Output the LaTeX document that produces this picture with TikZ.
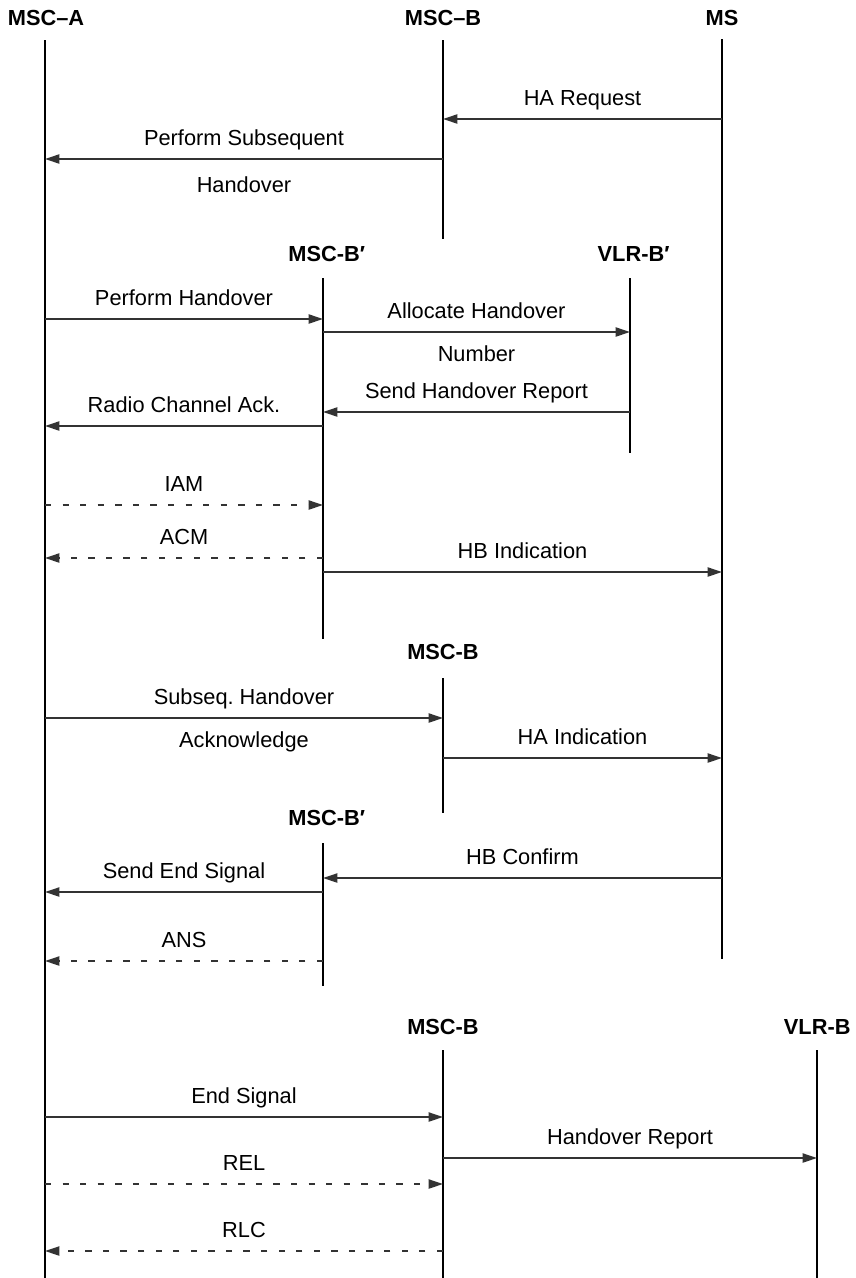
\documentclass[tikz,border=0pt]{standalone}
\usepackage{fontspec}
\setmainfont{Liberation Sans}
\usetikzlibrary{arrows.meta}

\begin{document}
\begin{tikzpicture}[
  x=1cm, y=1cm,
  >={Triangle[length=3.6mm, width=2.3mm]},
  every node/.style={inner sep=0pt, font=\fontsize{15.5}{18}\selectfont},
  head/.style={font=\fontsize{15.5}{18}\selectfont\bfseries},
  lbl/.style={text height=0.4cm, text depth=0.1cm},
  life/.style={draw, line width=1.8pt},
  % the two message kinds: solid for a signal, dashed for the ISUP ones
  msg/.style={draw=black!80, line width=1.1pt, ->},
  dmsg/.style={draw=black!80, line width=1.1pt, ->, dash pattern=on 4.5pt off 8pt}]

  \useasboundingbox (0,0) rectangle (21.375,-31.95);

  % entity names
  \node[head] (hA)   at ( 1.15, -0.45)  {MSC--A};
  \node[head] (hB)   at (11.075,-0.45)  {MSC--B};
  \node[head] (hMS)  at (18.05, -0.45)  {MS};
  \node[head] (hBp)  at ( 8.17, -6.35)  {MSC-B′};
  \node[head] (hVp)  at (15.84, -6.35)  {VLR-B′};
  \node[head] (hB2)  at (11.075,-16.3)  {MSC-B};
  \node[head] (hBp2) at ( 8.17, -20.45) {MSC-B′};
  \node[head] (hB3)  at (11.075,-25.675){MSC-B};
  \node[head] (hV)   at (20.43, -25.675){VLR-B};

  % lifeline ends
  \coordinate (aTop)   at ( 1.125, -1.00);  \coordinate (aBot)   at ( 1.125,-31.95);
  \coordinate (bTop)   at (11.075, -1.00);  \coordinate (bBot)   at (11.075, -5.975);
  \coordinate (msTop)  at (18.05,  -0.975); \coordinate (msBot)  at (18.05, -23.975);
  \coordinate (bpTop)  at ( 8.075, -6.95);  \coordinate (bpBot)  at ( 8.075,-15.975);
  \coordinate (vpTop)  at (15.75,  -6.95);  \coordinate (vpBot)  at (15.75, -11.325);
  \coordinate (b2Top)  at (11.075,-16.95);  \coordinate (b2Bot)  at (11.075,-20.325);
  \coordinate (bp2Top) at ( 8.075,-21.075); \coordinate (bp2Bot) at ( 8.075,-24.65);
  \coordinate (b3Top)  at (11.075,-26.25);  \coordinate (b3Bot)  at (11.075,-31.95);
  \coordinate (vTop)   at (20.425,-26.25);  \coordinate (vBot)   at (20.425,-31.95);

  % lifelines
  \draw[life] (aTop)   -- (aBot);
  \draw[life] (bTop)   -- (bBot);
  \draw[life] (msTop)  -- (msBot);
  \draw[life] (bpTop)  -- (bpBot);
  \draw[life] (vpTop)  -- (vpBot);
  \draw[life] (b2Top)  -- (b2Bot);
  \draw[life] (bp2Top) -- (bp2Bot);
  \draw[life] (b3Top)  -- (b3Bot);
  \draw[life] (vTop)   -- (vBot);

  % message rows
  \coordinate (m1)  at (0, -2.975);
  \coordinate (m2)  at (0, -3.975);
  \coordinate (m3)  at (0, -7.975);
  \coordinate (m4)  at (0, -8.3);
  \coordinate (m5)  at (0,-10.3);
  \coordinate (m6)  at (0,-10.65);
  \coordinate (m7)  at (0,-12.625);
  \coordinate (m8)  at (0,-13.95);
  \coordinate (m9)  at (0,-14.3);
  \coordinate (m10) at (0,-17.95);
  \coordinate (m11) at (0,-18.95);
  \coordinate (m12) at (0,-21.95);
  \coordinate (m13) at (0,-22.3);
  \coordinate (m14) at (0,-24.025);
  \coordinate (m15) at (0,-27.925);
  \coordinate (m16) at (0,-28.95);
  \coordinate (m17) at (0,-29.6);
  \coordinate (m18) at (0,-31.275);

  % messages
  \draw[msg] (msTop |- m1) -- node[lbl, above=0.21cm] (tHAreq) {HA Request} (bTop |- m1);
  \draw[msg] (bTop |- m2) -- node[lbl, above=0.21cm] (tPSH) {Perform Subsequent}
                             node[lbl, below=0.42cm] (tPSH2) {Handover} (aTop |- m2);
  \draw[msg] (aTop |- m3) -- node[lbl, above=0.21cm] (tPH) {Perform Handover} (bpTop |- m3);
  \draw[msg] (bpTop |- m4) -- node[lbl, above=0.21cm] (tAHN) {Allocate Handover}
                              node[lbl, below=0.31cm] (tAHN2) {Number} (vpTop |- m4);
  \draw[msg] (vpTop |- m5) -- node[lbl, above=0.21cm] (tSHR) {Send Handover Report} (bpTop |- m5);
  \draw[msg] (bpTop |- m6) -- node[lbl, above=0.21cm] (tRCA) {Radio Channel Ack.} (aTop |- m6);
  \draw[dmsg] (aTop |- m7) -- node[lbl, above=0.21cm] (tIAM) {IAM} (bpTop |- m7);
  \draw[dmsg] (bpTop |- m8) -- node[lbl, above=0.21cm] (tACM) {ACM} (aTop |- m8);
  \draw[msg] (bpTop |- m9) -- node[lbl, above=0.21cm] (tHBI) {HB Indication} (msTop |- m9);
  \draw[msg] (aTop |- m10) -- node[lbl, above=0.21cm] (tSHA) {Subseq.\ Handover}
                              node[lbl, below=0.31cm] (tSHA2) {Acknowledge} (b2Top |- m10);
  \draw[msg] (b2Top |- m11) -- node[lbl, above=0.21cm] (tHAI) {HA Indication} (msTop |- m11);
  \draw[msg] (msTop |- m12) -- node[lbl, above=0.21cm] (tHBC) {HB Confirm} (bp2Top |- m12);
  \draw[msg] (bp2Top |- m13) -- node[lbl, above=0.21cm] (tSES) {Send End Signal} (aTop |- m13);
  \draw[dmsg] (bp2Top |- m14) -- node[lbl, above=0.21cm] (tANS) {ANS} (aTop |- m14);
  \draw[msg] (aTop |- m15) -- node[lbl, above=0.21cm] (tES) {End Signal} (b3Top |- m15);
  \draw[msg] (b3Top |- m16) -- node[lbl, above=0.21cm] (tHR) {Handover Report} (vTop |- m16);
  \draw[dmsg] (aTop |- m17) -- node[lbl, above=0.21cm] (tREL) {REL} (b3Top |- m17);
  \draw[dmsg] (b3Top |- m18) -- node[lbl, above=0.21cm] (tRLC) {RLC} (aTop |- m18);
\end{tikzpicture}
\end{document}
